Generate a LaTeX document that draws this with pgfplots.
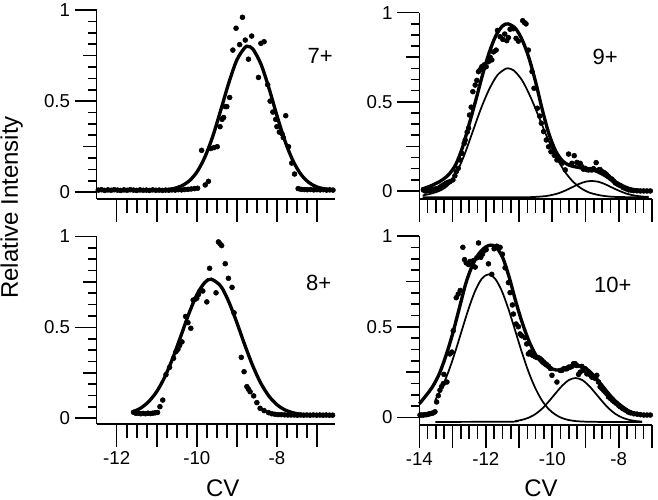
\documentclass[border=0pt]{standalone}
\usepackage{fontspec}
\setmainfont{Liberation Sans}
\usepackage{pgfplots}
\pgfplotsset{compat=1.18}

\pgfplotsset{
  base/.style={
    scale only axis, anchor=south west,
    axis line style={-, line width=1.2pt},
    tick style={black, line width=1.2pt},
    ymax=1,
    tick label style={font=\fontsize{14}{16}\selectfont},
  },
  % x axis, data and labels
  xpanel/.style={base, clip=false,
    axis x line*=bottom, axis y line=none, ytick=\empty, tick align=outside,
    major tick length=17pt, minor tick length=10.5pt, minor x tick num=3},
  % y axis: labelled ticks and minor ticks
  ylab/.style={base,
    axis x line=none, axis y line*=left, xtick=\empty, tick align=outside,
    ytick={0,0.5,1}, yticklabels={0,0.5,1},
    major tick length=16.5pt,
    minor ytick={0,0.0625,...,1}, minor tick length=6.5pt},
  % y axis: middle ticks at 0.25 and 0.75
  ymid/.style={base,
    axis x line=none, axis y line*=left, xtick=\empty, tick align=outside,
    ytick={0.25,0.75}, yticklabels={}, major tick length=10pt},
  fitthick/.style={black, line width=2.5pt, smooth, no markers},
  fitthin/.style={black, line width=1.3pt, smooth, no markers},
  dots/.style={black, only marks, mark=*, mark size=1.85pt},
}

% y axes of one panel: #1 position, #2 width, #3 height, #4 xmin, #5 xmax, #6 ymin
\newcommand\yaxes[6]{%
  \begin{axis}[ylab, at={#1}, width=#2, height=#3, xmin=#4, xmax=#5, ymin=#6]\end{axis}
  \begin{axis}[ymid, at={#1}, width=#2, height=#3, xmin=#4, xmax=#5, ymin=#6]\end{axis}}

\begin{document}
\begin{tikzpicture}
\useasboundingbox (0,0) rectangle (493.5pt,375pt);

% ---- 7+ ----
\begin{axis}[xpanel, at={(72.5pt,225.75pt)}, width=178.75pt, height=141.75pt,
  xmin=-12.5, xmax=-6.55, ymin=-0.037,
  xtick={-12,...,-7}, xticklabels={}]
\addplot[fitthick] coordinates {
 (-12.5,0.010) (-11.6,0.010) (-11.0,0.011) (-10.8,0.013) (-10.6,0.019) (-10.4,0.033)
 (-10.2,0.060) (-10.0,0.110) (-9.8,0.192) (-9.6,0.308) (-9.4,0.452) (-9.2,0.601)
 (-9.0,0.726) (-8.8,0.794) (-8.72,0.800) (-8.6,0.786) (-8.4,0.704) (-8.2,0.572)
 (-8.0,0.421) (-7.8,0.282) (-7.6,0.173) (-7.4,0.098) (-7.2,0.053) (-7.0,0.029)
 (-6.8,0.018) (-6.6,0.013)};
\addplot[dots] table {
x y
-12.46 0.012
-12.38 0.014
-12.30 0.010
-12.22 0.013
-12.14 0.011
-12.06 0.014
-11.98 0.012
-11.90 0.010
-11.82 0.013
-11.74 0.011
-11.66 0.014
-11.58 0.012
-11.50 0.010
-11.42 0.013
-11.34 0.011
-11.26 0.012
-11.18 0.010
-11.10 0.013
-11.02 0.011
-10.94 0.012
-10.86 0.010
-10.78 0.012
-10.70 0.011
-10.62 0.013
-10.54 0.012
-10.46 0.014
-10.38 0.013
-10.30 0.015
-10.22 0.016
-10.14 0.018
-10.06 0.020
-9.98 0.022
-9.88 0.23
-9.79 0.04
-9.71 0.06
-9.65 0.24
-9.57 0.245
-9.49 0.25
-9.42 0.36
-9.37 0.40
-9.33 0.41
-9.29 0.47
-9.25 0.47
-9.18 0.52
-9.10 0.78
-9.02 0.90
-8.93 0.81
-8.86 0.96
-8.79 0.835
-8.71 0.73
-8.63 0.857
-8.46 0.63
-8.40 0.817
-8.32 0.826
-8.23 0.59
-8.17 0.50
-8.10 0.44
-8.03 0.40
-8.00 0.36
-7.94 0.33
-7.87 0.32
-7.84 0.30
-7.78 0.42
-7.71 0.25
-7.63 0.16
-7.56 0.10
-7.47 0.02
-7.40 0.016
-7.32 0.015
-7.24 0.014
-7.16 0.015
-7.08 0.013
-7.00 0.014
-6.92 0.013
-6.84 0.014
-6.76 0.012
-6.68 0.013
-6.60 0.012
};
\node[font=\fontsize{16.5}{19}\selectfont] at (axis cs:-6.92,0.747) {7+};
\end{axis}
\yaxes{(72.5pt,225.75pt)}{178.75pt}{141.75pt}{-12.5}{-6.55}{-0.037}

% ---- 9+ ----
\begin{axis}[xpanel, at={(314.5pt,225.75pt)}, width=174.5pt, height=139.75pt,
  xmin=-14, xmax=-7, ymin=-0.045,
  xtick={-14,...,-7}, xticklabels={}]
\addplot[fitthick] coordinates {
 (-13.93,0.010) (-13.7,0.025) (-13.5,0.042) (-13.3,0.063) (-13.1,0.095) (-12.9,0.150)
 (-12.7,0.245) (-12.5,0.375) (-12.3,0.510) (-12.1,0.650) (-11.9,0.775) (-11.7,0.870)
 (-11.5,0.925) (-11.33,0.937) (-11.1,0.910) (-10.9,0.845) (-10.7,0.745) (-10.5,0.610)
 (-10.3,0.455) (-10.1,0.320) (-9.9,0.225) (-9.7,0.170) (-9.5,0.145) (-9.3,0.135)
 (-9.1,0.128) (-8.9,0.122) (-8.7,0.113) (-8.5,0.095) (-8.3,0.073) (-8.1,0.050)
 (-7.9,0.030) (-7.7,0.015) (-7.5,0.006) (-7.3,0.002) (-7.0,0.000)};
\addplot[fitthin] coordinates {
 (-13.9,-0.025) (-13.65,-0.015) (-13.4,0.000) (-13.15,0.030) (-12.9,0.095) (-12.65,0.200)
 (-12.4,0.330) (-12.15,0.460) (-11.9,0.570) (-11.65,0.650) (-11.4,0.686) (-11.33,0.688)
 (-11.15,0.675) (-10.9,0.618) (-10.65,0.525) (-10.4,0.413) (-10.15,0.299) (-9.9,0.198)
 (-9.65,0.116) (-9.4,0.057) (-9.15,0.017) (-8.9,-0.008) (-8.65,-0.021) (-8.4,-0.029)
 (-8.0,-0.034) (-7.1,-0.035)};
\addplot[fitthin] coordinates {
 (-13.9,-0.035) (-10.8,-0.035) (-10.6,-0.034) (-10.4,-0.032) (-10.2,-0.029) (-10.0,-0.022)
 (-9.8,-0.012) (-9.6,0.003) (-9.4,0.021) (-9.2,0.039) (-9.0,0.052) (-8.81,0.056)
 (-8.6,0.051) (-8.4,0.037) (-8.2,0.019) (-8.0,0.002) (-7.8,-0.013) (-7.6,-0.023)
 (-7.4,-0.029) (-7.2,-0.0325) (-7.1,-0.033)};
\addplot[dots] table {
x y
-13.88 0.006
-13.83 0.000
-13.78 0.000
-13.72 0.004
-13.66 0.002
-13.61 0.008
-13.56 0.010
-13.50 0.012
-13.43 0.015
-13.38 0.020
-13.33 0.028
-13.26 0.035
-13.20 0.043
-13.14 0.048
-13.08 0.052
-12.99 0.062
-12.93 0.085
-12.89 0.108
-12.83 0.127
-12.77 0.174
-12.72 0.211
-12.65 0.267
-12.62 0.286
-12.56 0.330
-12.52 0.352
-12.49 0.426
-12.44 0.470
-12.39 0.557
-12.32 0.594
-12.27 0.620
-12.22 0.669
-12.17 0.680
-12.12 0.697
-12.05 0.707
-11.99 0.697
-11.92 0.725
-11.87 0.750
-11.82 0.735
-11.77 0.780
-11.69 0.790
-11.65 0.900
-11.57 0.865
-11.49 0.850
-11.43 0.880
-11.37 0.843
-11.32 0.860
-11.27 0.907
-11.17 0.910
-11.09 0.856
-11.02 0.840
-10.89 0.955
-10.84 0.945
-10.79 0.937
-10.72 0.790
-10.61 0.670
-10.55 0.576
-10.45 0.464
-10.38 0.420
-10.33 0.380
-10.26 0.333
-10.18 0.286
-10.11 0.248
-10.04 0.220
-9.94 0.200
-9.86 0.174
-9.76 0.170
-9.71 0.155
-9.61 0.118
-9.51 0.207
-9.41 0.155
-9.34 0.198
-9.26 0.160
-9.21 0.155
-9.16 0.155
-9.11 0.136
-9.06 0.122
-9.01 0.127
-8.96 0.120
-8.91 0.118
-8.86 0.120
-8.81 0.118
-8.76 0.125
-8.68 0.159
-8.61 0.118
-8.56 0.120
-8.51 0.108
-8.46 0.105
-8.41 0.099
-8.36 0.090
-8.31 0.080
-8.25 0.071
-8.20 0.065
-8.15 0.055
-8.10 0.045
-8.05 0.040
-8.00 0.034
-7.93 0.028
-7.86 0.018
-7.78 0.012
-7.70 0.006
-7.62 0.004
-7.55 0.002
-7.45 0.001
-7.35 0.000
-7.25 0.000
-7.15 0.000
-7.05 0.000
};
\node[font=\fontsize{16.5}{19}\selectfont] at (axis cs:-8.41,0.749) {9+};
\end{axis}
\yaxes{(314.5pt,225.75pt)}{174.5pt}{139.75pt}{-14}{-7}{-0.045}

% ---- 8+ ----
\begin{axis}[xpanel, at={(72.5pt,56.8pt)}, width=178.75pt, height=140.85pt,
  xmin=-12.5, xmax=-6.55, ymin=-0.033,
  xtick={-12,...,-7}, xticklabels={-12,,-10,,-8,}]
\addplot[fitthick] coordinates {
 (-11.6,0.035) (-11.4,0.056) (-11.2,0.092) (-11.0,0.147) (-10.8,0.227) (-10.6,0.331)
 (-10.4,0.451) (-10.2,0.574) (-10.0,0.679) (-9.8,0.747) (-9.64,0.765) (-9.4,0.726)
 (-9.2,0.640) (-9.0,0.526) (-8.8,0.402) (-8.6,0.287) (-8.4,0.192) (-8.2,0.122)
 (-8.0,0.075) (-7.8,0.046) (-7.6,0.030) (-7.4,0.022) (-7.2,0.018) (-7.0,0.016)
 (-6.6,0.015)};
\addplot[dots] table {
x y
-11.58 0.033
-11.52 0.027
-11.46 0.028
-11.40 0.025
-11.34 0.027
-11.28 0.025
-11.22 0.028
-11.16 0.026
-11.10 0.028
-11.04 0.030
-10.98 0.032
-10.92 0.064
-10.85 0.100
-10.77 0.240
-10.68 0.280
-10.58 0.330
-10.52 0.366
-10.47 0.380
-10.43 0.400
-10.37 0.420
-10.28 0.560
-10.22 0.526
-10.15 0.495
-10.09 0.650
-10.04 0.655
-10.00 0.660
-9.96 0.680
-9.92 0.700
-9.85 0.700
-9.75 0.640
-9.68 0.825
-9.52 0.690
-9.46 0.970
-9.42 0.960
-9.38 0.950
-9.29 0.850
-9.21 0.770
-9.12 0.720
-9.07 0.580
-8.89 0.335
-8.82 0.256
-8.75 0.174
-8.71 0.160
-8.67 0.146
-8.58 0.123
-8.50 0.086
-8.42 0.055
-8.32 0.042
-8.21 0.031
-8.13 0.025
-8.05 0.022
-7.97 0.020
-7.89 0.020
-7.81 0.019
-7.73 0.018
-7.65 0.018
-7.57 0.018
-7.49 0.017
-7.41 0.018
-7.33 0.017
-7.25 0.018
-7.17 0.017
-7.09 0.018
-7.01 0.017
-6.93 0.018
-6.85 0.017
-6.77 0.018
-6.69 0.017
-6.61 0.017
};
\node[font=\fontsize{16.5}{19}\selectfont] at (axis cs:-6.955,0.747) {8+};
\end{axis}
\yaxes{(72.5pt,56.8pt)}{178.75pt}{140.85pt}{-12.5}{-6.55}{-0.033}

% ---- 10+ ----
\begin{axis}[xpanel, at={(314.5pt,56.25pt)}, width=174.5pt, height=141.7pt,
  xmin=-14, xmax=-7, ymin=-0.042,
  xtick={-14,...,-7}, xticklabels={-14,,-12,,-10,,-8,}]
\addplot[fitthick] coordinates {
 (-14.0,0.075) (-13.8,0.120) (-13.6,0.170) (-13.4,0.240) (-13.2,0.340) (-13.0,0.460)
 (-12.8,0.600) (-12.6,0.740) (-12.4,0.840) (-12.2,0.905) (-12.0,0.940) (-11.85,0.950)
 (-11.7,0.940) (-11.5,0.885) (-11.3,0.775) (-11.1,0.640) (-10.9,0.520) (-10.7,0.420)
 (-10.5,0.345) (-10.3,0.300) (-10.1,0.275) (-9.9,0.262) (-9.7,0.262) (-9.5,0.275)
 (-9.3,0.285) (-9.1,0.280) (-8.9,0.258) (-8.7,0.220) (-8.5,0.175) (-8.3,0.130)
 (-8.1,0.090) (-7.9,0.060) (-7.7,0.035) (-7.5,0.022) (-7.3,0.015) (-7.0,0.012)};
\addplot[fitthin] coordinates {
 (-13.52,0.096) (-13.32,0.165) (-13.12,0.254) (-12.92,0.362) (-12.72,0.481) (-12.52,0.598)
 (-12.32,0.698) (-12.12,0.765) (-11.92,0.789) (-11.72,0.765) (-11.52,0.698) (-11.32,0.598)
 (-11.12,0.481) (-10.92,0.362) (-10.72,0.254) (-10.52,0.165) (-10.32,0.096) (-10.12,0.048)
 (-9.92,0.017) (-9.72,-0.003) (-9.52,-0.014) (-9.32,-0.020) (-9.02,-0.0235) (-8.5,-0.025)
 (-7.3,-0.025)};
\addplot[fitthin] coordinates {
 (-13.52,-0.025) (-11.3,-0.024) (-11.1,-0.020) (-10.9,-0.013) (-10.7,-0.001) (-10.5,0.019)
 (-10.3,0.049) (-10.1,0.089) (-9.9,0.133) (-9.7,0.175) (-9.5,0.206) (-9.3,0.217)
 (-9.1,0.206) (-8.9,0.175) (-8.7,0.133) (-8.5,0.089) (-8.3,0.049) (-8.1,0.019)
 (-7.9,-0.001) (-7.7,-0.013) (-7.5,-0.020) (-7.3,-0.023)};
\addplot[dots] table {
x y
-13.98 0.013
-13.93 0.013
-13.88 0.013
-13.83 0.015
-13.78 0.015
-13.73 0.018
-13.68 0.020
-13.63 0.022
-13.58 0.025
-13.53 0.031
-13.48 0.085
-13.43 0.120
-13.38 0.150
-13.33 0.170
-13.28 0.186
-13.26 0.237
-13.17 0.195
-13.08 0.350
-13.02 0.360
-12.98 0.478
-12.89 0.660
-12.83 0.680
-12.77 0.700
-12.69 0.938
-12.64 0.870
-12.59 0.852
-12.52 0.843
-12.47 0.860
-12.42 0.852
-12.37 0.865
-12.32 0.829
-12.27 0.880
-12.22 0.962
-12.15 0.883
-12.10 0.900
-12.07 0.916
-11.99 0.925
-11.92 0.847
-11.82 0.789
-11.75 0.930
-11.67 0.944
-11.57 0.938
-11.50 0.900
-11.42 0.825
-11.32 0.743
-11.27 0.688
-11.20 0.620
-11.17 0.570
-11.09 0.515
-11.02 0.500
-10.97 0.460
-10.92 0.450
-10.82 0.440
-10.77 0.405
-10.72 0.350
-10.67 0.360
-10.62 0.345
-10.57 0.341
-10.52 0.335
-10.46 0.330
-10.42 0.330
-10.36 0.323
-10.31 0.314
-10.26 0.305
-10.21 0.296
-10.16 0.290
-10.11 0.281
-10.06 0.270
-10.01 0.232
-9.86 0.195
-9.76 0.259
-9.71 0.259
-9.66 0.268
-9.61 0.268
-9.56 0.268
-9.51 0.277
-9.46 0.277
-9.41 0.281
-9.36 0.296
-9.31 0.296
-9.26 0.286
-9.21 0.237
-9.16 0.250
-9.11 0.281
-9.06 0.260
-9.01 0.268
-8.96 0.240
-8.91 0.241
-8.86 0.235
-8.81 0.222
-8.76 0.222
-8.71 0.215
-8.66 0.232
-8.61 0.195
-8.56 0.168
-8.51 0.160
-8.46 0.150
-8.41 0.140
-8.36 0.131
-8.31 0.113
-8.25 0.104
-8.20 0.095
-8.13 0.085
-8.07 0.077
-8.00 0.065
-7.95 0.058
-7.88 0.048
-7.80 0.040
-7.72 0.030
-7.65 0.025
-7.55 0.020
-7.45 0.018
-7.35 0.015
-7.25 0.013
-7.15 0.013
-7.05 0.013
};
\node[font=\fontsize{16.5}{19}\selectfont] at (axis cs:-8.18,0.733) {10+};
\end{axis}
\yaxes{(314.5pt,56.25pt)}{174.5pt}{141.7pt}{-14}{-7}{-0.042}

\node[rotate=90, font=\fontsize{18}{21}\selectfont] at (8.8pt,219.4pt) {Relative Intensity};
\node[font=\fontsize{18}{21}\selectfont] at (167.1pt,8.75pt) {CV};
\node[font=\fontsize{18}{21}\selectfont] at (405.75pt,8.75pt) {CV};
\end{tikzpicture}
\end{document}
